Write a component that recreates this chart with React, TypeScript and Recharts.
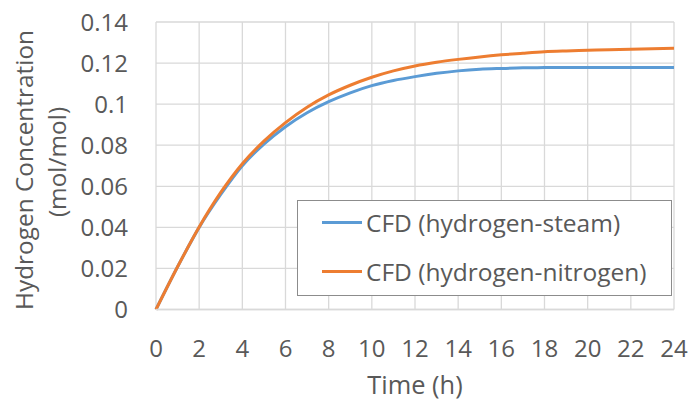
import React from 'react'
import { LineChart, Line, XAxis, YAxis, CartesianGrid, Label } from 'recharts'

const hours = [0, 1, 2, 3, 4, 5, 6, 7, 8, 9, 10, 11, 12, 13, 14, 15, 16, 17, 18, 19, 20, 21, 22, 23, 24]
const steam = [0, 0.0208, 0.04, 0.056, 0.07, 0.0805, 0.089, 0.0958, 0.1012, 0.1055, 0.109, 0.1115, 0.1134,
  0.115, 0.1162, 0.117, 0.1174, 0.1177, 0.1178, 0.1179, 0.1179, 0.1179, 0.1179, 0.1178, 0.1178]
const nitrogen = [0, 0.0208, 0.0402, 0.057, 0.071, 0.082, 0.091, 0.0985, 0.1045, 0.1092, 0.1131, 0.1162, 0.1186,
  0.1204, 0.1218, 0.123, 0.124, 0.1248, 0.1255, 0.1259, 0.1262, 0.1265, 0.1267, 0.127, 0.1272]
const xTicks = [0, 2, 4, 6, 8, 10, 12, 14, 16, 18, 20, 22, 24]
const yTicks = [0, 0.02, 0.04, 0.06, 0.08, 0.1, 0.12, 0.14]

const series = [
  { key: 'steam', name: 'CFD (hydrogen-steam)', color: '#5b9bd5' },
  { key: 'nitrogen', name: 'CFD (hydrogen-nitrogen)', color: '#ed7d31' },
]

const data = hours.map((t, i) => ({ t, steam: steam[i], nitrogen: nitrogen[i] }))

const FONT = '"Open Sans", sans-serif'
const TEXT = '#595959'
const GRID = '#d9d9d9'

const fmtY = (v: number) => (v === 0 ? '0' : String(+v.toFixed(2)))

function LegendBox() {
  return (
    <div
      style={{
        position: 'absolute',
        left: 297,
        top: 200,
        width: 375,
        height: 96,
        boxSizing: 'border-box',
        border: '1px solid #8c8c8c',
        background: '#fff',
        fontFamily: FONT,
        fontSize: 24.5,
        color: TEXT,
      }}
    >
      {series.map((s, i) => (
        <div
          key={s.key}
          style={{ display: 'flex', alignItems: 'center', height: 49, paddingLeft: 24, marginTop: i === 0 ? -3 : 0 }}
        >
          <div style={{ width: 40, height: 3, background: s.color, marginRight: 4 }} />
          <span style={{ whiteSpace: 'nowrap' }}>{s.name}</span>
        </div>
      ))}
    </div>
  )
}

function YTitle() {
  return (
    <g fontFamily={FONT} fontSize={24.4} fill={TEXT} textAnchor="middle">
      <text transform="translate(33,170) rotate(-90)">Hydrogen Concentration</text>
      <text transform="translate(66,162) rotate(-90)">(mol/mol)</text>
    </g>
  )
}

export default function App() {
  return (
    <div style={{ position: 'absolute', left: 0, top: 0, width: 693, height: 403, background: '#fff' }}>
      <LineChart width={693} height={403} data={data} margin={{ top: 22, right: 19, left: 0, bottom: 0 }}>
        <CartesianGrid stroke={GRID} strokeWidth={1.3} />
        <XAxis
          dataKey="t"
          type="number"
          domain={[0, 24]}
          ticks={xTicks}
          height={93.5}
          tickLine={false}
          tickSize={0}
          tickMargin={30}
          axisLine={{ stroke: GRID, strokeWidth: 1.3 }}
          tick={{ fontFamily: FONT, fontSize: 24, fill: TEXT }}
          interval={0}
        >
          <Label value="Time (h)" position="insideBottom" offset={9} fontFamily={FONT} fontSize={25.4} fill={TEXT} />
        </XAxis>
        <YAxis
          type="number"
          domain={[0, 0.14]}
          ticks={yTicks}
          width={156}
          tickLine={false}
          tickSize={0}
          tickMargin={28}
          axisLine={false}
          tickFormatter={fmtY}
          tick={{ fontFamily: FONT, fontSize: 24, fill: TEXT }}
          interval={0}
        >
          <Label content={<YTitle />} />
        </YAxis>
        {series.map((s) => (
          <Line
            key={s.key}
            name={s.name}
            dataKey={s.key}
            type="monotone"
            stroke={s.color}
            strokeWidth={3}
            dot={false}
            isAnimationActive={false}
          />
        ))}
      </LineChart>
      <LegendBox />
    </div>
  )
}
